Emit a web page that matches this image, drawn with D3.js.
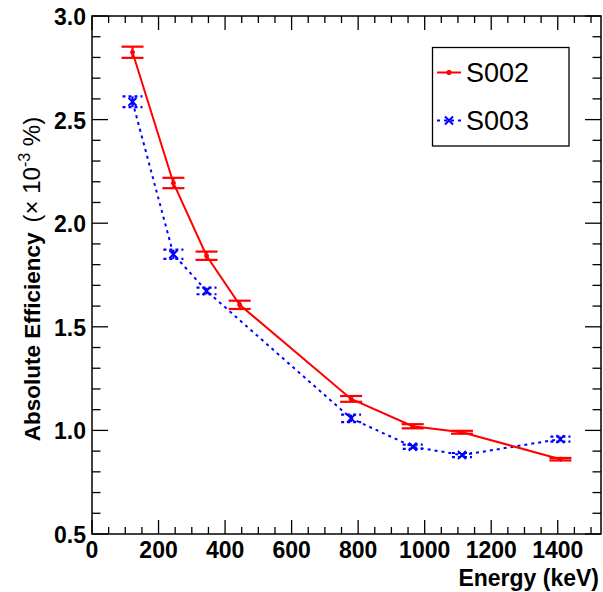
<!DOCTYPE html>
<html><head><meta charset="utf-8">
<script src="https://cdn.jsdelivr.net/npm/d3@7"></script>
<style>html,body{margin:0;padding:0;background:#fff;}svg{display:block;font-family:"Liberation Sans",Arial,Helvetica,sans-serif;}</style>
</head><body>
<svg id="c" width="603" height="592"></svg>
<script>
const energies002 = [121.78, 244.70, 344.28, 443.96, 778.90, 964.08, 1112.07, 1408.01];
const eff002 = [2.825, 2.194, 1.843, 1.606, 1.152, 1.020, 0.991, 0.861];
const err002 = [0.027, 0.025, 0.020, 0.020, 0.014, 0.010, 0.007, 0.006];
const energies003 = [121.78, 244.70, 344.28, 778.90, 964.08, 1112.07, 1408.01];
const eff003 = [2.586, 1.850, 1.673, 1.058, 0.921, 0.881, 0.958];
const err003 = [0.026, 0.022, 0.016, 0.018, 0.010, 0.010, 0.012];
const xTicks = [0, 200, 400, 600, 800, 1000, 1200, 1400];
const yTicks = [0.5, 1.0, 1.5, 2.0, 2.5, 3.0];
const seriesNames = ["S002", "S003"];

const svg = d3.select("#c");
const L = 92, R = 601, T = 16, B = 534;
const x = d3.scaleLinear().domain([0, 1530]).range([L, R]);
const y = d3.scaleLinear().domain([0.5, 3.0]).range([B, T]);

// frame
svg.append("rect").attr("x", L).attr("y", T).attr("width", R - L).attr("height", B - T)
  .attr("fill", "none").attr("stroke", "#000").attr("stroke-width", 1.5);

// ticks
const xMinor = d3.range(0, 1530, 50);
const yMinor = d3.range(0.5, 3.0001, 0.1);
const tg = svg.append("g").attr("stroke", "#000").attr("stroke-width", 1.3);
xMinor.forEach(v => {
  const major = Math.abs(v % 200) < 1e-6;
  const len = major ? 14 : 7;
  tg.append("line").attr("x1", x(v)).attr("x2", x(v)).attr("y1", B).attr("y2", B - len);
  tg.append("line").attr("x1", x(v)).attr("x2", x(v)).attr("y1", T).attr("y2", T + len);
});
yMinor.forEach(v => {
  const r = Math.round(v * 10) % 5;
  const len = r === 0 ? 16 : 8.5;
  tg.append("line").attr("x1", L).attr("x2", L + len).attr("y1", y(v)).attr("y2", y(v));
  tg.append("line").attr("x1", R).attr("x2", R - len).attr("y1", y(v)).attr("y2", y(v));
});

// tick labels
svg.append("g").selectAll("text").data(xTicks).join("text")
  .attr("x", d => x(d)).attr("y", 558).attr("text-anchor", "middle")
  .attr("font-size", 23).attr("font-weight", "bold").text(d => d);
svg.append("g").selectAll("text").data(yTicks).join("text")
  .attr("x", 86).attr("y", d => y(d) + 9).attr("text-anchor", "end")
  .attr("font-size", 23).attr("font-weight", "bold").text(d => d.toFixed(1));

// axis titles
svg.append("text").attr("x", 599).attr("y", 586).attr("text-anchor", "end")
  .attr("font-size", 23).attr("font-weight", "bold").text("Energy (keV)");
const yt = svg.append("text").attr("transform", "translate(40,279) rotate(-90)")
  .attr("text-anchor", "middle").attr("font-size", 24);
yt.append("tspan").attr("font-weight", "bold").attr("font-size", 22.5).text("Absolute Efficiency");
yt.append("tspan").attr("dx", 10).text("(\u00d7 10");
yt.append("tspan").attr("font-size", 16).attr("dy", -10).text("-3");
yt.append("tspan").attr("dy", 10).text(" %)");

// series
const s002 = energies002.map((e, i) => ({e, v: eff002[i], err: err002[i]}));
const s003 = energies003.map((e, i) => ({e, v: eff003[i], err: err003[i]}));
const line = d3.line().x(d => x(d.e)).y(d => y(d.v));

svg.append("path").datum(s003).attr("d", line).attr("fill", "none")
  .attr("stroke", "#0000ff").attr("stroke-width", 2).attr("stroke-dasharray", "3,4");
svg.append("path").datum(s002).attr("d", line).attr("fill", "none")
  .attr("stroke", "#ff0000").attr("stroke-width", 2);

// blue error bars & markers
const gb = svg.append("g").attr("stroke", "#0000ff").attr("stroke-width", 2.2);
s003.forEach(d => {
  const cx = x(d.e), cy = y(d.v);
  [d.v + d.err, d.v - d.err].forEach(v => {
    gb.append("line").attr("x1", cx - 10).attr("x2", cx + 10).attr("y1", y(v)).attr("y2", y(v))
      .attr("stroke-dasharray", "3,3");
  });
  gb.append("line").attr("x1", cx).attr("x2", cx).attr("y1", y(d.v + d.err)).attr("y2", y(d.v - d.err));
  gb.append("path").attr("d", `M${cx-4},${cy-4}L${cx+4},${cy+4}M${cx-4},${cy+4}L${cx+4},${cy-4}`)
    .attr("stroke-width", 2);
});

// red error bars & markers
const gr = svg.append("g").attr("stroke", "#ff0000").attr("stroke-width", 2.2);
s002.forEach(d => {
  const cx = x(d.e), cy = y(d.v);
  [d.v + d.err, d.v - d.err].forEach(v => {
    gr.append("line").attr("x1", cx - 11).attr("x2", cx + 11).attr("y1", y(v)).attr("y2", y(v));
  });
  gr.append("line").attr("x1", cx).attr("x2", cx).attr("y1", y(d.v + d.err)).attr("y2", y(d.v - d.err));
  gr.append("circle").attr("cx", cx).attr("cy", cy).attr("r", 2).attr("fill", "#ff0000").attr("stroke-width", 1);
});

// legend
const lg = svg.append("g");
lg.append("rect").attr("x", 432.5).attr("y", 47.5).attr("width", 136.5).attr("height", 98.5)
  .attr("fill", "#fff").attr("stroke", "#000").attr("stroke-width", 1.3);
lg.append("line").attr("x1", 437).attr("x2", 461).attr("y1", 72.5).attr("y2", 72.5)
  .attr("stroke", "#ff0000").attr("stroke-width", 2);
lg.append("circle").attr("cx", 449).attr("cy", 72.5).attr("r", 2.2).attr("fill", "#ff0000")
  .attr("stroke", "#ff0000");
lg.append("line").attr("x1", 437).attr("x2", 461).attr("y1", 120.5).attr("y2", 120.5)
  .attr("stroke", "#0000ff").attr("stroke-width", 2).attr("stroke-dasharray", "3,4");
lg.append("path").attr("d", "M445,116.5L453,124.5M445,124.5L453,116.5").attr("stroke", "#0000ff").attr("stroke-width", 2);
lg.selectAll("text.lt").data(seriesNames).join("text").attr("class", "lt")
  .attr("x", 466).attr("y", (d, i) => 82 + i * 48).attr("font-size", 27).text(d => d);
</script>
</body></html>
